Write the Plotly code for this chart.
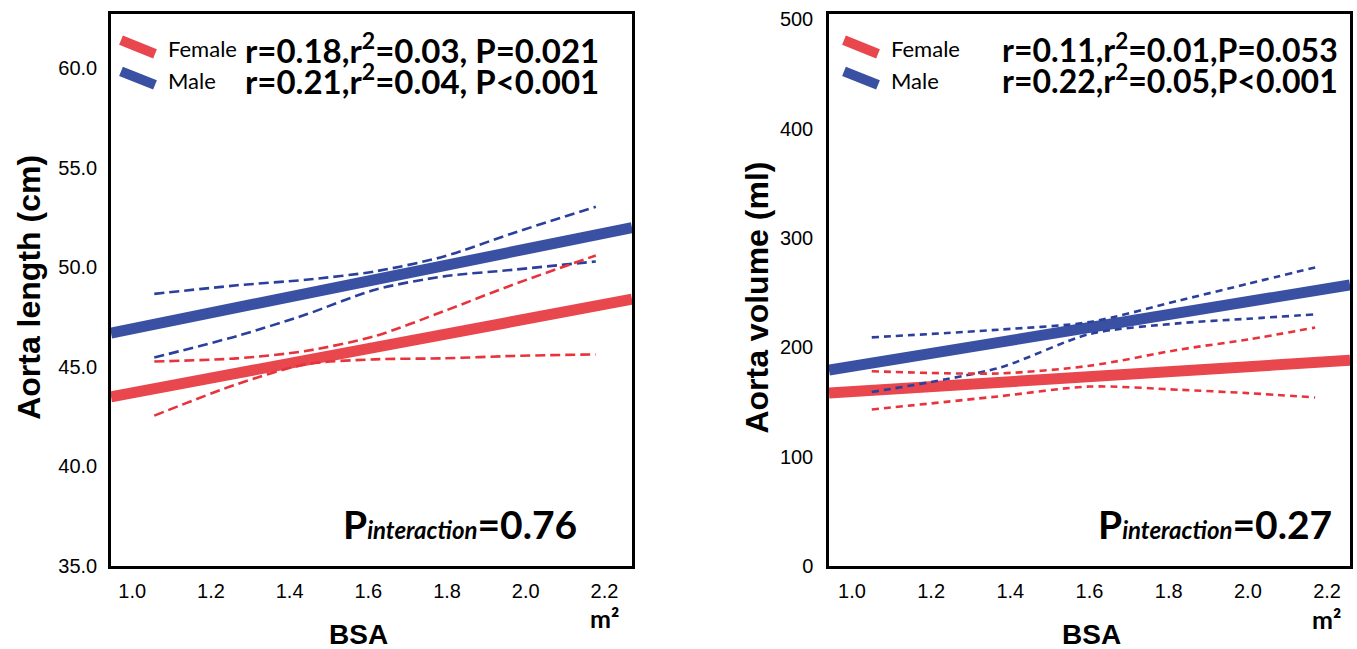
import plotly.graph_objects as go

W, H = 1357, 649

# ---------------- data ----------------
# Left panel: aorta length (cm) vs BSA (m^2)
len_fit_x = [0.946, 2.27]
len_female_fit = [43.5, 48.4]
len_male_fit = [46.7, 52.0]
len_ci_x = [1.056, 1.266, 1.441, 1.617, 1.792, 1.967, 2.178]
len_male_upper = [48.67, 49.10, 49.38, 49.8, 50.55, 51.72, 53.05]
len_male_lower = [45.47, 46.55, 47.63, 48.88, 49.55, 49.88, 50.3]
len_female_upper = [45.27, 45.43, 45.8, 46.55, 47.8, 49.13, 50.6]
len_female_lower = [42.55, 44.13, 45.13, 45.38, 45.43, 45.55, 45.63]

# Right panel: aorta volume (ml) vs BSA (m^2)
vol_fit_x = [0.942, 2.258]
vol_female_fit = [158, 188]
vol_male_fit = [179, 257]
vol_ci_x = [1.05, 1.37, 1.60, 1.83, 2.00, 2.17]
vol_male_upper = [209, 216, 223, 243, 258, 273]
vol_male_lower = [159, 181, 212, 222, 226, 230]
vol_female_upper = [178, 176, 183, 198, 207, 218]
vol_female_lower = [143, 155, 164, 161, 158, 154]

x_ticks = [1.0, 1.2, 1.4, 1.6, 1.8, 2.0, 2.2]
len_ticks = [35, 40, 45, 50, 55, 60]
vol_ticks = [0, 100, 200, 300, 400, 500]

stats_len = ["r=0.18,r<sup>2</sup>=0.03, P=0.021", "r=0.21,r<sup>2</sup>=0.04, P<0.001"]
stats_vol = ["r=0.11,r<sup>2</sup>=0.01,P=0.053", "r=0.22,r<sup>2</sup>=0.05,P<0.001"]
p_inter = ["0.76", "0.27"]

# ---------------- styles ----------------
RED = "#E8474E"
BLUE = "#3A51A3"
RED_D = "#E8333C"
BLUE_D = "#2B3F9C"


def px(x):
    return min(1.0, max(0.0, x / W))


def py(y):
    return min(1.0, max(0.0, 1 - y / H))


fig = go.Figure()


def add_panel(xa, ya, fx, ff, fm, cx, mu, ml, fu, fl, dash):
    kw = dict(xaxis=xa, yaxis=ya, showlegend=False, hoverinfo="skip")
    fig.add_trace(go.Scatter(x=fx, y=ff, mode="lines", line=dict(color=RED, width=11), **kw))
    fig.add_trace(go.Scatter(x=fx, y=fm, mode="lines", line=dict(color=BLUE, width=11), **kw))
    for ys, c in [(mu, BLUE_D), (ml, BLUE_D), (fu, RED_D), (fl, RED_D)]:
        fig.add_trace(go.Scatter(x=cx, y=ys, mode="lines",
                                 line=dict(color=c, width=2.6, dash=dash, shape="spline", smoothing=0.8),
                                 **kw))


add_panel("x", "y", len_fit_x, len_female_fit, len_male_fit, len_ci_x,
          len_male_upper, len_male_lower, len_female_upper, len_female_lower, "10px,5px")
add_panel("x2", "y2", vol_fit_x, vol_female_fit, vol_male_fit, vol_ci_x,
          vol_male_upper, vol_male_lower, vol_female_upper, vol_female_lower, "7px,5px")

ydom = [py(575), py(9)]
axis_common = dict(showline=True, linewidth=2.5, linecolor="black", mirror=True,
                   showgrid=False, zeroline=False, ticks="", ticklabeloverflow="allow",
                   tickfont=dict(family="Liberation Sans, Arial", size=20, color="black"))

fig.update_layout(
    width=W, height=H, margin=dict(l=0, r=0, t=0, b=0),
    paper_bgcolor="white", plot_bgcolor="white",
    xaxis=dict(domain=[px(111), px(632)], range=[0.946, 2.27], tickvals=x_ticks,
               tickformat=".1f", anchor="y", ticklabelstandoff=5, **axis_common),
    yaxis=dict(domain=ydom, range=[35, 62.75], tickvals=len_ticks, tickformat=".1f",
               anchor="x", ticklabelstandoff=7, **axis_common),
    xaxis2=dict(domain=[px(829), px(1350)], range=[0.942, 2.258], tickvals=x_ticks,
                tickformat=".1f", anchor="y2", ticklabelstandoff=5, **axis_common),
    yaxis2=dict(domain=ydom, range=[0, 505], tickvals=vol_ticks, tickformat="d",
                anchor="x2", ticklabelstandoff=9, **axis_common),
)

ann = []
TF = "Liberation Sans, Arial"
LF = "Lato, Carlito, Calibri"


def text(x, y, t, size, family=TF, xanchor="center", angle=0, color="black"):
    ann.append(dict(x=px(x), y=py(y), xref="paper", yref="paper", text=t, showarrow=False,
                    xanchor=xanchor, yanchor="middle", textangle=angle,
                    font=dict(family=family, size=size, color=color)))


# axis titles
text(29, 290, "<b>Aorta length (cm)</b>", 32, angle=-90)
text(757, 300, "<b>Aorta volume (ml)</b>", 32, angle=-90)
text(358, 645, "<b>BSA</b>", 28)
text(1091, 645, "<b>BSA</b>", 28)
text(604, 628, "<b>m²</b>", 25, family=LF)
text(1326, 630, "<b>m²</b>", 25, family=LF)

# legends
shapes = []


def legend(x0, y0, labels, stats, stat_x, stat_size):
    for i, (lab, st, col) in enumerate(zip(labels, stats, [RED, BLUE])):
        yy = y0 + i * 32
        shapes.append(dict(type="line", xref="paper", yref="paper",
                           x0=px(x0 - 45), y0=py(yy - 8), x1=px(x0 - 11), y1=py(yy + 6),
                           line=dict(color=col, width=10)))
        text(x0, yy + 1, lab, 22, family=LF, xanchor="left")
        text(stat_x, yy, "<b>" + st + "</b>", stat_size, family=LF, xanchor="left")


legend(166, 44, ["Female", "Male"], stats_len, 243, 33)
legend(889, 44, ["Female", "Male"], stats_vol, 1000, 32)

# P interaction
for xr, pv in [(579, p_inter[0]), (1334, p_inter[1])]:
    ann.append(dict(x=px(xr), y=py(532), xref="paper", yref="paper", showarrow=False,
                    xanchor="right", yanchor="middle",
                    text="<b>P<i><span style='font-size:24px'>interaction</span></i>=" + pv + "</b>",
                    font=dict(family=LF, size=39, color="black")))

fig.update_layout(annotations=ann, shapes=shapes)
fig.write_html(
    "out.html",
    config={"displayModeBar": False},
    post_script="document.documentElement.style.overflow='hidden';"
                "document.body.style.margin='0';document.body.style.overflow='hidden';",
)
